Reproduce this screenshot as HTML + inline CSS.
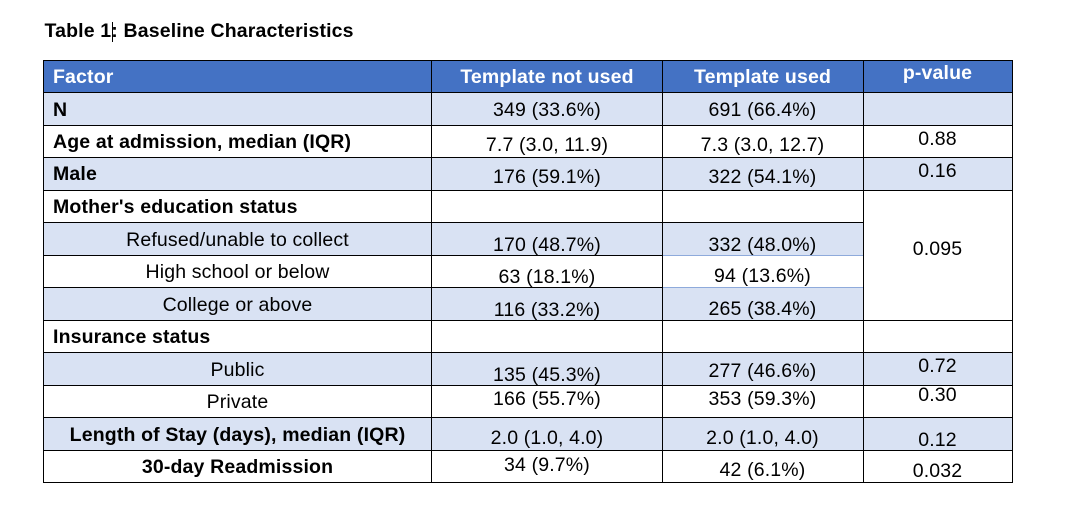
<!DOCTYPE html>
<html>
<head>
<meta charset="utf-8">
<style>
  html, body { margin:0; padding:0; }
  body { width:1066px; height:532px; background:#fff; position:relative; overflow:hidden;
         font-family:"Liberation Sans", Arial, sans-serif; color:#000; }
  .t { position:absolute; font-size:19.5px; line-height:20px; letter-spacing:0.15px; white-space:nowrap; }
  .b { font-weight:bold; }
  .c { text-align:center; }
  .w { color:#fff; }
  .bg { position:absolute; }
  .hl { position:absolute; height:1px; background:#000; }
  .vl { position:absolute; width:1px; background:#000; }
</style>
</head>
<body>

<!-- Title -->
<div class="t b" style="left:44.5px;top:20.5px;">Table 1: Baseline Characteristics</div>
<div style="position:absolute;left:112px;top:22px;width:1px;height:20px;background:#000;"></div>

<!-- Backgrounds -->
<div class="bg" style="left:43px;top:61px;width:969px;height:32px;background:#4472C4;"></div>
<div class="bg" style="left:43px;top:93px;width:969px;height:32px;background:#D9E2F3;"></div>
<div class="bg" style="left:43px;top:158px;width:969px;height:32px;background:#D9E2F3;"></div>
<div class="bg" style="left:43px;top:223px;width:820px;height:32px;background:#D9E2F3;"></div>
<div class="bg" style="left:43px;top:288px;width:820px;height:32px;background:#D9E2F3;"></div>
<div class="bg" style="left:43px;top:353px;width:969px;height:32px;background:#D9E2F3;"></div>
<div class="bg" style="left:43px;top:418px;width:969px;height:32px;background:#D9E2F3;"></div>

<!-- Horizontal lines -->
<div class="hl" style="left:43px;top:60px;width:970px;"></div>
<div class="hl" style="left:43px;top:92px;width:970px;"></div>
<div class="hl" style="left:43px;top:125px;width:970px;"></div>
<div class="hl" style="left:43px;top:157px;width:970px;"></div>
<div class="hl" style="left:43px;top:190px;width:970px;"></div>
<div class="hl" style="left:43px;top:222px;width:820px;"></div>
<div class="hl" style="left:43px;top:255px;width:619px;"></div>
<div class="hl" style="left:662px;top:255px;width:201px;background:#8EAADB;"></div>
<div class="hl" style="left:43px;top:287px;width:619px;"></div>
<div class="hl" style="left:662px;top:287px;width:201px;background:#8EAADB;"></div>
<div class="hl" style="left:43px;top:320px;width:970px;"></div>
<div class="hl" style="left:43px;top:352px;width:970px;"></div>
<div class="hl" style="left:43px;top:385px;width:970px;"></div>
<div class="hl" style="left:43px;top:417px;width:970px;"></div>
<div class="hl" style="left:43px;top:450px;width:970px;"></div>
<div class="hl" style="left:43px;top:482px;width:970px;"></div>

<!-- Vertical lines -->
<div class="vl" style="left:43px;top:60px;height:423px;"></div>
<div class="vl" style="left:431px;top:60px;height:423px;"></div>
<div class="vl" style="left:662px;top:60px;height:423px;"></div>
<div class="vl" style="left:863px;top:60px;height:423px;"></div>
<div class="vl" style="left:1012px;top:60px;height:423px;"></div>

<!-- Header -->
<div class="t b w" style="left:53px;top:67.2px;">Factor</div>
<div class="t b w c" style="left:432px;width:230px;top:66.9px;">Template not used</div>
<div class="t b w c" style="left:662px;width:201px;top:66.9px;">Template used</div>
<div class="t b w c" style="left:863px;width:149px;top:62.9px;">p-value</div>

<!-- Column 1 -->
<div class="t b" style="left:53px;top:99.9px;">N</div>
<div class="t b" style="left:53px;top:131.5px;">Age at admission, median (IQR)</div>
<div class="t b" style="left:53px;top:163.9px;">Male</div>
<div class="t b" style="left:53px;top:196.5px;">Mother's education status</div>
<div class="t c" style="left:43px;width:389px;top:229.9px;">Refused/unable to collect</div>
<div class="t c" style="left:43px;width:389px;top:262.2px;">High school or below</div>
<div class="t c" style="left:43px;width:389px;top:294.9px;">College or above</div>
<div class="t b" style="left:53px;top:326.5px;">Insurance status</div>
<div class="t c" style="left:43px;width:389px;top:359.9px;">Public</div>
<div class="t c" style="left:43px;width:389px;top:392.2px;">Private</div>
<div class="t b c" style="left:43px;width:389px;top:424.9px;">Length of Stay (days), median (IQR)</div>
<div class="t b c" style="left:43px;width:389px;top:456.5px;">30-day Readmission</div>

<!-- Column 2 -->
<div class="t c" style="left:432px;width:230px;top:100.2px;">349 (33.6%)</div>
<div class="t c" style="left:432px;width:230px;top:134.7px;">7.7 (3.0, 11.9)</div>
<div class="t c" style="left:432px;width:230px;top:167.2px;">176 (59.1%)</div>
<div class="t c" style="left:432px;width:230px;top:234.7px;">170 (48.7%)</div>
<div class="t c" style="left:432px;width:230px;top:267.2px;">63 (18.1%)</div>
<div class="t c" style="left:432px;width:230px;top:299.5px;">116 (33.2%)</div>
<div class="t c" style="left:432px;width:230px;top:365.2px;">135 (45.3%)</div>
<div class="t c" style="left:432px;width:230px;top:388.9px;">166 (55.7%)</div>
<div class="t c" style="left:432px;width:230px;top:428.2px;">2.0 (1.0, 4.0)</div>
<div class="t c" style="left:432px;width:230px;top:454.9px;">34 (9.7%)</div>

<!-- Column 3 -->
<div class="t c" style="left:662px;width:201px;top:100.2px;">691 (66.4%)</div>
<div class="t c" style="left:662px;width:201px;top:134.5px;">7.3 (3.0, 12.7)</div>
<div class="t c" style="left:662px;width:201px;top:167.2px;">322 (54.1%)</div>
<div class="t c" style="left:662px;width:201px;top:234.5px;">332 (48.0%)</div>
<div class="t c" style="left:662px;width:201px;top:266.2px;">94 (13.6%)</div>
<div class="t c" style="left:662px;width:201px;top:298.9px;">265 (38.4%)</div>
<div class="t c" style="left:662px;width:201px;top:360.5px;">277 (46.6%)</div>
<div class="t c" style="left:662px;width:201px;top:388.9px;">353 (59.3%)</div>
<div class="t c" style="left:662px;width:201px;top:428.2px;">2.0 (1.0, 4.0)</div>
<div class="t c" style="left:662px;width:201px;top:459.7px;">42 (6.1%)</div>

<!-- Column 4 -->
<div class="t c" style="left:863px;width:149px;top:128.5px;">0.88</div>
<div class="t c" style="left:863px;width:149px;top:160.5px;">0.16</div>
<div class="t c" style="left:863px;width:149px;top:238.7px;">0.095</div>
<div class="t c" style="left:863px;width:149px;top:356.2px;">0.72</div>
<div class="t c" style="left:863px;width:149px;top:385.2px;">0.30</div>
<div class="t c" style="left:863px;width:149px;top:430.2px;">0.12</div>
<div class="t c" style="left:863px;width:149px;top:460.7px;">0.032</div>

</body>
</html>
